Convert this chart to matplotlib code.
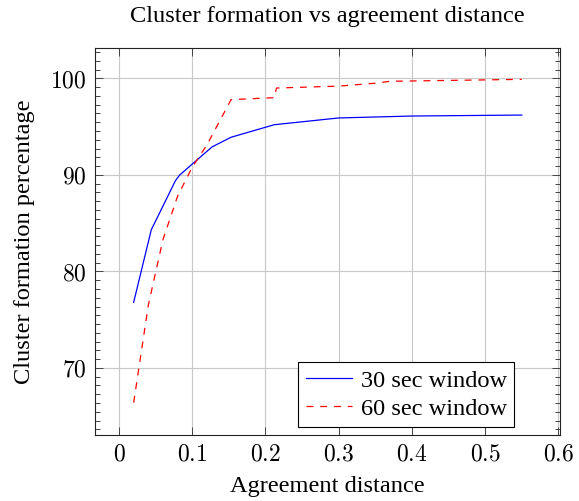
import matplotlib
matplotlib.use('Agg')
import matplotlib.pyplot as plt
from matplotlib.ticker import AutoMinorLocator

plt.rcParams['font.family'] = ['Liberation Serif', 'DejaVu Serif']
plt.rcParams['mathtext.fontset'] = 'cm'

# data
dist_30 = [0.02, 0.044, 0.077, 0.083, 0.127, 0.153, 0.212, 0.30, 0.40, 0.55]
pct_30 = [76.8, 84.3, 89.4, 90.0, 92.9, 93.9, 95.2, 95.9, 96.1, 96.2]

dist_60 = [0.02, 0.04, 0.06, 0.08, 0.10, 0.12, 0.153, 0.212, 0.215, 0.30, 0.35, 0.37, 0.55]
pct_60 = [66.4, 76.5, 83.3, 87.8, 90.8, 93.1, 97.8, 98.0, 99.0, 99.2, 99.5, 99.7, 99.9]

xticks = [0, 0.1, 0.2, 0.3, 0.4, 0.5, 0.6]
yticks = [70, 80, 90, 100]

fs = 17.6

fig = plt.figure(figsize=(5.79, 5.02), dpi=100)
ax = fig.add_axes([95/579, 1-436/502, 464.5/579, 387.5/502])

ax.plot(dist_30, pct_30, color='blue', lw=0.9, label='30 sec window')
ax.plot(dist_60, pct_60, color='red', lw=0.9, dashes=(5.5, 5.5), label='60 sec window')

ax.set_xlim(-0.0328, 0.6015)
ax.set_ylim(63.05, 103.2)

ax.set_xticks(xticks, labels=['$%g$' % t for t in xticks])
ax.set_yticks(yticks, labels=['$%g$' % t for t in yticks])
ax.yaxis.set_minor_locator(AutoMinorLocator(11))

ax.grid(True, which='major', color='#c8c8c8', lw=0.8)
ax.set_axisbelow(True)
ax.tick_params(which='both', direction='in', top=True, right=True,
               color='#444444', width=0.7, labelsize=17, pad=6)
ax.tick_params(which='major', length=6)
ax.tick_params(which='minor', length=3.6)
for sp in ax.spines.values():
    sp.set_linewidth(0.8)
    sp.set_color('#222222')

fig.text(327/579, 1-22/502, 'Cluster formation vs agreement distance',
         ha='center', va='baseline', fontsize=fs)
fig.text(327/579, 1-492/502, 'Agreement distance',
         ha='center', va='baseline', fontsize=fs)
fig.text(25/579, 1-242/502, 'Cluster formation percentage',
         ha='center', va='center', rotation=90, fontsize=fs)

leg = ax.legend(loc='lower right', bbox_to_anchor=(514/579, 1-427.7/502),
                bbox_transform=fig.transFigure, borderaxespad=0,
                fontsize=fs, fancybox=False, framealpha=1, edgecolor='black',
                handlelength=1.9, handletextpad=0.35, borderpad=0.3,
                labelspacing=0.25)
leg.get_frame().set_linewidth(0.8)

fig.savefig('out.png', dpi=100)
